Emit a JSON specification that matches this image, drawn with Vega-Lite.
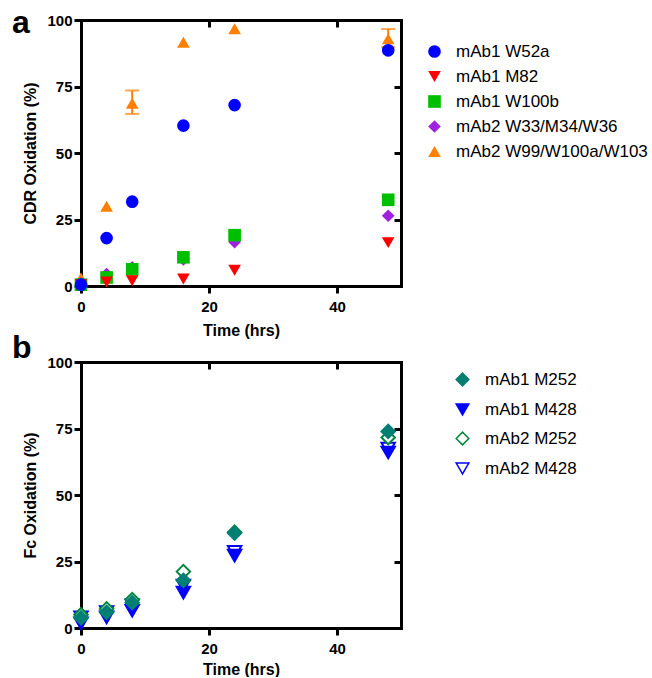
{
  "$schema": "https://vega.github.io/schema/vega-lite/v6.json",
  "padding": {"left": 12, "top": 7, "right": 0, "bottom": 0},
  "bounds": "flush",
  "spacing": 76,
  "resolve": {
    "scale": {"color": "independent", "shape": "independent", "fill": "independent", "stroke": "independent"},
    "legend": {"color": "independent", "shape": "independent", "fill": "independent", "stroke": "independent"}
  },
  "config": {
    "view": {"stroke": null},
    "font": "Liberation Sans",
    "axis": {
      "grid": false,
      "labelFlush": false,
      "domainColor": "black",
      "domainWidth": 3,
      "domainCap": "square",
      "tickColor": "black",
      "tickWidth": 3,
      "tickSize": 7,
      "labelFont": "Liberation Sans",
      "labelFontWeight": "bold",
      "labelFontSize": 15,
      "labelColor": "black",
      "labelPadding": 2,
      "titleFont": "Liberation Sans",
      "titleFontWeight": "bold",
      "titleFontSize": 16,
      "titleColor": "black"
    },
    "legend": {
      "labelFont": "Liberation Sans",
      "labelFontSize": 17,
      "labelColor": "black",
      "labelLimit": 400,
      "padding": 0
    }
  },
  "datasets": {
    "cdr": [
      {"series": "mAb2 W99/W100a/W103", "time": 0, "value": 3},
      {"series": "mAb2 W99/W100a/W103", "time": 4, "value": 30},
      {"series": "mAb2 W99/W100a/W103", "time": 8, "value": 68.7, "lo": 64.7, "hi": 73.5},
      {"series": "mAb2 W99/W100a/W103", "time": 16, "value": 91.6},
      {"series": "mAb2 W99/W100a/W103", "time": 24, "value": 96.7},
      {"series": "mAb2 W99/W100a/W103", "time": 48, "value": 92.9, "lo": 89.8, "hi": 96.6},
      {"series": "mAb2 W33/M34/W36", "time": 0, "value": 1},
      {"series": "mAb2 W33/M34/W36", "time": 4, "value": 4.5},
      {"series": "mAb2 W33/M34/W36", "time": 8, "value": 7},
      {"series": "mAb2 W33/M34/W36", "time": 16, "value": 10},
      {"series": "mAb2 W33/M34/W36", "time": 24, "value": 16.5},
      {"series": "mAb2 W33/M34/W36", "time": 48, "value": 26.4},
      {"series": "mAb1 W100b", "time": 0, "value": 0.5},
      {"series": "mAb1 W100b", "time": 4, "value": 3.2},
      {"series": "mAb1 W100b", "time": 8, "value": 6.3},
      {"series": "mAb1 W100b", "time": 16, "value": 10.8},
      {"series": "mAb1 W100b", "time": 24, "value": 19.1},
      {"series": "mAb1 W100b", "time": 48, "value": 32.4},
      {"series": "mAb1 M82", "time": 0, "value": 0.5},
      {"series": "mAb1 M82", "time": 4, "value": 1.5},
      {"series": "mAb1 M82", "time": 8, "value": 2},
      {"series": "mAb1 M82", "time": 16, "value": 2.6},
      {"series": "mAb1 M82", "time": 24, "value": 5.9},
      {"series": "mAb1 M82", "time": 48, "value": 16.3},
      {"series": "mAb1 W52a", "time": 0, "value": 0.5},
      {"series": "mAb1 W52a", "time": 4, "value": 18},
      {"series": "mAb1 W52a", "time": 8, "value": 31.7},
      {"series": "mAb1 W52a", "time": 16, "value": 60.3},
      {"series": "mAb1 W52a", "time": 24, "value": 68},
      {"series": "mAb1 W52a", "time": 48, "value": 88.6}
    ],
    "fc": [
      {"series": "mAb2 M428", "time": 0, "value": 4},
      {"series": "mAb2 M428", "time": 4, "value": 6},
      {"series": "mAb2 M428", "time": 8, "value": 8.5},
      {"series": "mAb2 M428", "time": 16, "value": 16},
      {"series": "mAb2 M428", "time": 24, "value": 28.6},
      {"series": "mAb2 M428", "time": 48, "value": 67.5},
      {"series": "mAb2 M252", "time": 0, "value": 5},
      {"series": "mAb2 M252", "time": 4, "value": 7.2},
      {"series": "mAb2 M252", "time": 8, "value": 10.7},
      {"series": "mAb2 M252", "time": 16, "value": 21.2},
      {"series": "mAb2 M252", "time": 24, "value": 36},
      {"series": "mAb2 M252", "time": 48, "value": 71.6},
      {"series": "mAb1 M428", "time": 0, "value": 1.8},
      {"series": "mAb1 M428", "time": 4, "value": 4},
      {"series": "mAb1 M428", "time": 8, "value": 6.5},
      {"series": "mAb1 M428", "time": 16, "value": 13.3},
      {"series": "mAb1 M428", "time": 24, "value": 27.2},
      {"series": "mAb1 M428", "time": 48, "value": 66},
      {"series": "mAb1 M252", "time": 0, "value": 3.8},
      {"series": "mAb1 M252", "time": 4, "value": 5.9},
      {"series": "mAb1 M252", "time": 8, "value": 9.5},
      {"series": "mAb1 M252", "time": 16, "value": 17.9},
      {"series": "mAb1 M252", "time": 24, "value": 35.7},
      {"series": "mAb1 M252", "time": 48, "value": 73.9}
    ]
  },
  "vconcat": [
    {
      "width": 320,
      "height": 266,
      "title": {"text": "a", "anchor": "start", "frame": "group", "fontSize": 32, "fontWeight": "bold", "font": "Liberation Sans", "color": "black", "baseline": "alphabetic", "offset": 0, "dx": -69, "dy": 52},
      "data": {"name": "cdr"},
      "resolve": {"axis": {"x": "independent", "y": "independent"}},
      "layer": [
        {
          "mark": {"type": "errorbar", "color": "#FF8000", "ticks": {"size": 14, "thickness": 2}, "rule": {"strokeWidth": 2}},
          "transform": [{"filter": "isValid(datum.lo)"}],
          "encoding": {
            "x": {"field": "time", "type": "quantitative", "scale": {"domain": [0, 50], "nice": false}, "axis": {"orient": "top", "values": [20, 40], "labels": false, "tickSize": -7, "title": null}},
            "y": {"field": "lo", "type": "quantitative", "scale": {"domain": [0, 100], "nice": false}, "axis": {"orient": "right", "values": [25, 50, 75], "labels": false, "tickSize": -7, "title": null}},
            "y2": {"field": "hi"}
          }
        },
        {
          "mark": {"type": "point", "filled": true, "size": 160, "opacity": 1},
          "encoding": {
            "x": {"field": "time", "type": "quantitative", "scale": {"domain": [0, 50], "nice": false}, "axis": {"values": [0, 20, 40], "title": "Time (hrs)", "labelPadding": 6, "titlePadding": 8}},
            "y": {"field": "value", "type": "quantitative", "scale": {"domain": [0, 100], "nice": false}, "axis": {"values": [0, 25, 50, 75, 100], "title": "CDR Oxidation (%)", "titlePadding": 8}},
            "color": {"field": "series", "type": "nominal", "scale": {"domain": ["mAb1 W52a", "mAb1 M82", "mAb1 W100b", "mAb2 W33/M34/W36", "mAb2 W99/W100a/W103"], "range": ["#0000FF", "#FF0000", "#00BF00", "#A020E0", "#FF8000"]}, "legend": {"title": null, "orient": "none", "legendX": 345, "legendY": 23, "symbolSize": 160, "rowPadding": 7, "labelOffset": 13}},
            "shape": {"field": "series", "type": "nominal", "scale": {"domain": ["mAb1 W52a", "mAb1 M82", "mAb1 W100b", "mAb2 W33/M34/W36", "mAb2 W99/W100a/W103"], "range": ["circle", "triangle-down", "square", "diamond", "triangle-up"]}, "legend": {"title": null, "orient": "none", "legendX": 345, "legendY": 23, "symbolSize": 160, "rowPadding": 7, "labelOffset": 13}}
          }
        }
      ]
    },
    {
      "width": 320,
      "height": 266,
      "title": {"text": "b", "anchor": "start", "frame": "group", "fontSize": 32, "fontWeight": "bold", "font": "Liberation Sans", "color": "black", "baseline": "alphabetic", "offset": 0, "dx": -69, "dy": 35},
      "data": {"name": "fc"},
      "resolve": {"axis": {"x": "independent", "y": "independent"}},
      "layer": [
        {
          "mark": {"type": "point", "opacity": 0},
          "encoding": {
            "x": {"field": "time", "type": "quantitative", "scale": {"domain": [0, 50], "nice": false}, "axis": {"orient": "top", "values": [20, 40], "labels": false, "tickSize": -7, "title": null}},
            "y": {"field": "value", "type": "quantitative", "scale": {"domain": [0, 100], "nice": false}, "axis": {"orient": "right", "values": [25, 50, 75], "labels": false, "tickSize": -7, "title": null}}
          }
        },
        {
          "mark": {"type": "point", "size": 180, "strokeWidth": 2, "opacity": 1},
          "encoding": {
            "x": {"field": "time", "type": "quantitative", "scale": {"domain": [0, 50], "nice": false}, "axis": {"values": [0, 20, 40], "title": "Time (hrs)", "labelPadding": 6, "titlePadding": 5}},
            "y": {"field": "value", "type": "quantitative", "scale": {"domain": [0, 100], "nice": false}, "axis": {"values": [0, 25, 50, 75, 100], "title": "Fc Oxidation (%)", "titlePadding": 8}},
            "fill": {"field": "series", "type": "nominal", "scale": {"domain": ["mAb1 M252", "mAb1 M428", "mAb2 M252", "mAb2 M428"], "range": ["#007F72", "#0000FF", "#FFFFFF", "#FFFFFF"]}, "legend": {"title": null, "orient": "none", "legendX": 373, "legendY": 9, "symbolSize": 160, "rowPadding": 11, "labelOffset": 14}},
            "stroke": {"field": "series", "type": "nominal", "scale": {"domain": ["mAb1 M252", "mAb1 M428", "mAb2 M252", "mAb2 M428"], "range": ["#007F72", "#0000FF", "#00873C", "#0000FF"]}, "legend": {"title": null, "orient": "none", "legendX": 373, "legendY": 9, "symbolSize": 160, "rowPadding": 11, "labelOffset": 14}},
            "shape": {"field": "series", "type": "nominal", "scale": {"domain": ["mAb1 M252", "mAb1 M428", "mAb2 M252", "mAb2 M428"], "range": ["diamond", "triangle-down", "diamond", "triangle-down"]}, "legend": {"title": null, "orient": "none", "legendX": 373, "legendY": 9, "symbolSize": 160, "rowPadding": 11, "labelOffset": 14}}
          }
        }
      ]
    }
  ]
}
